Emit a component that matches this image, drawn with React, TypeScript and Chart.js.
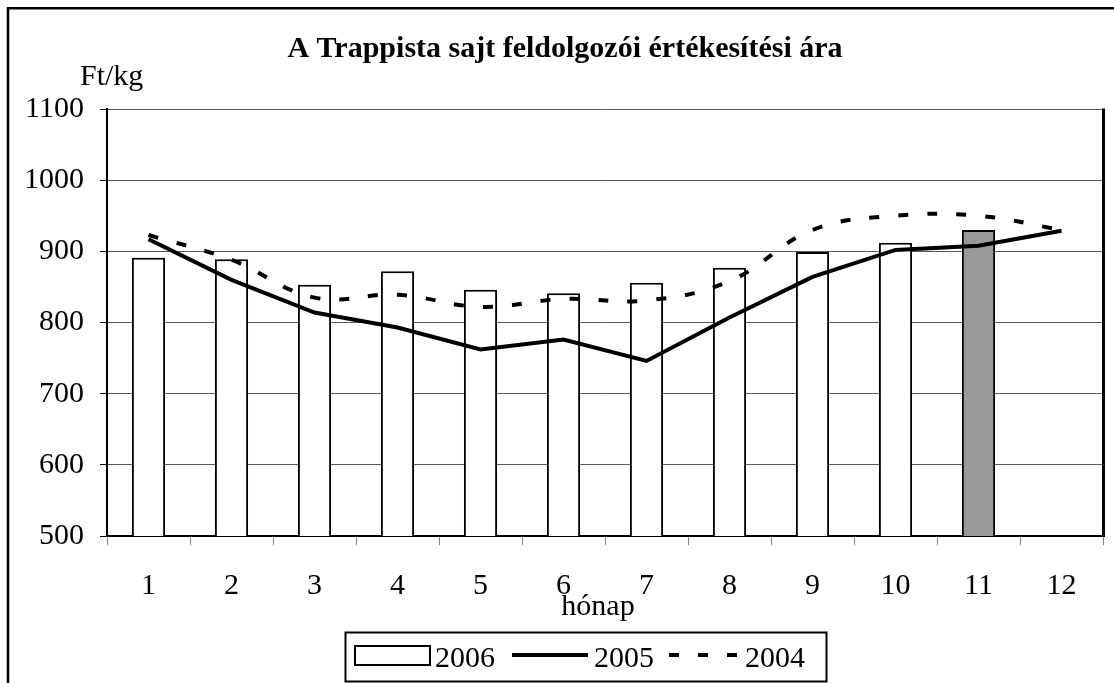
import React, { useEffect, useRef } from 'react';
import { Chart, registerables } from 'chart.js';

Chart.register(...registerables);

const months = ['1', '2', '3', '4', '5', '6', '7', '8', '9', '10', '11', '12'];
const seriesNames = ['2006', '2005', '2004'];
const price2006 = [891, 889, 853, 872, 846, 841, 856, 877, 899, 912, 930, null];
const price2005 = [917, 860, 814, 793, 762, 776, 746, 807, 864, 902, 908, 929];
const price2004 = [923, 888, 835, 839, 822, 833, 831, 858, 930, 950, 950, 930];
const highlightedMonth = '11';
const yMin = 500;
const yMax = 1100;
const yStep = 100;
const chartTitle = 'A Trappista sajt feldolgozói értékesítési ára';
const yUnit = 'Ft/kg';
const xTitle = 'hónap';

const FONT = '"Liberation Serif", "Times New Roman", serif';

const decorPlugin = {
  id: 'decor',
  beforeDraw(chart: any) {
    const ctx = chart.ctx;
    ctx.save();
    ctx.fillStyle = '#ffffff';
    ctx.fillRect(0, 0, chart.width, chart.height);
    ctx.restore();
  },
  afterDraw(chart: any) {
    const { ctx, chartArea } = chart;
    ctx.save();
    // outer frame (cut by the picture on the right and bottom)
    ctx.strokeStyle = '#000';
    ctx.lineWidth = 2.5;
    ctx.beginPath();
    ctx.moveTo(8, chart.height + 5);
    ctx.lineTo(8, 8.25);
    ctx.lineTo(chart.width + 5, 8.25);
    ctx.stroke();

    // thick right border of the plot area
    ctx.lineWidth = 3;
    ctx.beginPath();
    ctx.moveTo(chartArea.right + 0.5, chartArea.top - 0.5);
    ctx.lineTo(chartArea.right + 0.5, chartArea.bottom + 1);
    ctx.stroke();

    // title
    ctx.fillStyle = '#000';
    ctx.textBaseline = 'alphabetic';
    ctx.textAlign = 'center';
    ctx.font = `bold 30px ${FONT}`;
    ctx.fillText(chartTitle, 565, 57);

    // unit
    ctx.font = `30px ${FONT}`;
    ctx.textAlign = 'left';
    ctx.fillText(yUnit, 80, 85);

    // x axis title
    ctx.textAlign = 'center';
    ctx.fillText(xTitle, 598, 615);

    // legend
    const ds = chart.data.datasets;
    ctx.lineWidth = 2;
    ctx.strokeStyle = '#000';
    ctx.strokeRect(345.5, 632.5, 481, 49);

    // 2006 bar sample
    ctx.fillStyle = '#ffffff';
    ctx.fillRect(355, 646, 75, 19);
    ctx.strokeRect(355, 646, 75, 19);
    ctx.fillStyle = '#000';
    ctx.textAlign = 'left';
    ctx.fillText(ds[0].label, 435, 667);

    // 2005 solid
    ctx.lineWidth = ds[1].borderWidth;
    ctx.strokeStyle = ds[1].borderColor;
    ctx.setLineDash([]);
    ctx.beginPath();
    ctx.moveTo(512, 655);
    ctx.lineTo(588, 655);
    ctx.stroke();
    ctx.fillText(ds[1].label, 594, 667);

    // 2004 dashed
    ctx.lineWidth = ds[2].borderWidth;
    ctx.strokeStyle = ds[2].borderColor;
    ctx.setLineDash(ds[2].borderDash);
    ctx.beginPath();
    ctx.moveTo(669, 655);
    ctx.lineTo(740, 655);
    ctx.stroke();
    ctx.setLineDash([]);
    ctx.fillText(ds[2].label, 745, 667);

    ctx.restore();
  },
};

export default function App() {
  const canvasRef = useRef<HTMLCanvasElement | null>(null);

  useEffect(() => {
    document.body.style.margin = '0';
    const canvas = canvasRef.current;
    if (!canvas) return;
    const tickFont = { family: FONT, size: 30 };
    const chart = new Chart(canvas, {
      type: 'bar',
      data: {
        labels: months,
        datasets: [
          {
            type: 'bar',
            label: seriesNames[0],
            data: price2006,
            backgroundColor: months.map((m) => (m === highlightedMonth ? '#999999' : '#ffffff')),
            borderColor: '#000000',
            borderWidth: 2,
            barPercentage: 0.4,
            categoryPercentage: 1,
            order: 3,
          },
          {
            type: 'line',
            label: seriesNames[1],
            data: price2005,
            borderColor: '#000000',
            borderWidth: 4,
            pointRadius: 0,
            tension: 0,
            fill: false,
            order: 1,
          },
          {
            type: 'line',
            label: seriesNames[2],
            data: price2004,
            borderColor: '#000000',
            borderWidth: 4,
            borderDash: [10, 19],
            pointRadius: 0,
            tension: 0.4,
            fill: false,
            order: 2,
          },
        ] as any,
      },
      options: {
        animation: false,
        responsive: true,
        maintainAspectRatio: false,
        layout: { padding: { left: 0, right: 11, top: 109, bottom: 0 } },
        plugins: {
          legend: { display: false },
          title: { display: false },
          tooltip: { enabled: false },
        },
        scales: {
          x: {
            offset: true,
            grid: {
              offset: true,
              drawOnChartArea: false,
              tickLength: 9,
              color: '#808080',
              tickColor: '#808080',
              lineWidth: 1,
            },
            border: { display: true, color: '#000', width: 2 },
            ticks: { font: tickFont, color: '#000', padding: 23, maxRotation: 0, autoSkip: false },
            afterFit: (s: any) => {
              s.height = 147;
            },
          },
          y: {
            min: yMin,
            max: yMax,
            ticks: {
              stepSize: yStep,
              font: tickFont,
              color: '#000',
              padding: 16,
              callback: (v: any) => String(v),
            },
            grid: { color: '#5a5a5a', lineWidth: 1, tickLength: 7, tickColor: '#000' },
            border: { display: true, color: '#000', width: 2 },
            afterFit: (s: any) => {
              s.width = 107;
            },
          },
        },
      } as any,
      plugins: [decorPlugin],
    });
    return () => chart.destroy();
  }, []);

  return (
    <div style={{ width: 1114, height: 683, position: 'relative' }}>
      <canvas ref={canvasRef} />
    </div>
  );
}
